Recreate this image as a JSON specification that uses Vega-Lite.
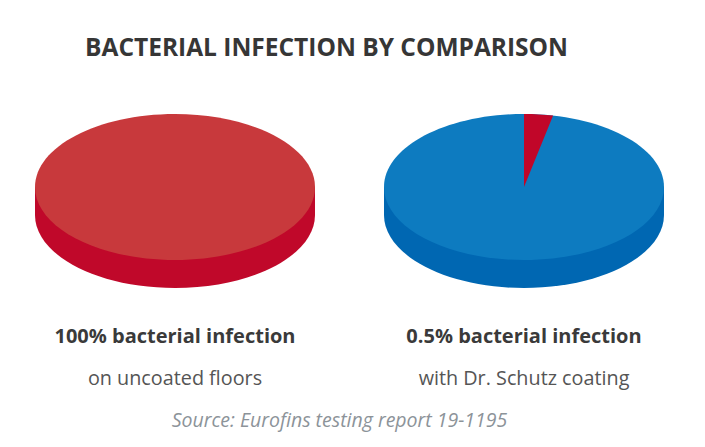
{
  "$schema": "https://vega.github.io/schema/vega-lite/v6.json",
  "width": 705,
  "height": 447,
  "autosize": {"type": "fit", "contains": "padding"},
  "padding": 0,
  "background": "white",
  "config": {"view": {"stroke": null}},
  "datasets": {
    "pies": [
      {"pie": "uncoated", "infected_pct": 100},
      {"pie": "coated", "infected_pct": 0.5}
    ],
    "slices": [
      {"pie": "coated", "part": "infected", "share_drawn_pct": 3.4}
    ],
    "labels": [
      {"pie": "uncoated", "line": "headline", "text": "100% bacterial infection"},
      {"pie": "uncoated", "line": "subline", "text": "on uncoated floors"},
      {"pie": "coated", "line": "headline", "text": "0.5% bacterial infection"},
      {"pie": "coated", "line": "subline", "text": "with Dr. Schutz coating"}
    ],
    "notes": [
      {"line": "title", "text": "BACTERIAL INFECTION BY COMPARISON"},
      {"line": "source", "text": "Source: Eurofins testing report 19-1195"}
    ]
  },
  "layer": [
    {
      "data": {"name": "pies"},
      "mark": {
        "type": "point",
        "shape": "M -1 -0.2607 L -1 -0.0607 A 1 0.5214 0 0 0 1 -0.0607 L 1 -0.2607 Z",
        "filled": true,
        "opacity": 1,
        "size": 78400,
        "strokeWidth": 0
      },
      "encoding": {
        "x": {"field": "pie", "type": "nominal", "scale": {"type": "point", "domain": ["uncoated", "coated"], "range": [175, 524], "padding": 0}, "axis": null},
        "fill": {"field": "pie", "type": "nominal", "scale": {"domain": ["uncoated", "coated"], "range": ["#C0082A", "#0067B2"]}, "legend": null}
      }
    },
    {
      "data": {"name": "pies"},
      "mark": {
        "type": "point",
        "shape": "M -1 -0.2607 A 1 0.5214 0 1 1 1 -0.2607 A 1 0.5214 0 1 1 -1 -0.2607 Z",
        "filled": true,
        "opacity": 1,
        "size": 78400,
        "strokeWidth": 0
      },
      "encoding": {
        "x": {"field": "pie", "type": "nominal", "axis": null},
        "fill": {"field": "pie", "type": "nominal", "scale": {"domain": ["uncoated", "coated"], "range": ["#C8393C", "#0D7BC0"]}, "legend": null}
      }
    },
    {
      "data": {"name": "slices"},
      "mark": {
        "type": "point",
        "shape": "M 0 -0.2607 L 0 -0.7821 A 1 0.5214 0 0 1 0.2079 -0.7707 Z",
        "filled": true,
        "opacity": 1,
        "size": 78400,
        "strokeWidth": 0,
        "color": "#C10629"
      },
      "encoding": {
        "x": {"field": "pie", "type": "nominal", "axis": null}
      }
    },
    {
      "data": {"name": "labels"},
      "transform": [{"filter": "datum.line === 'headline'"}],
      "mark": {"type": "text", "font": "Open Sans", "fontSize": 20, "fontWeight": "bold", "color": "#3a3a3a", "baseline": "alphabetic"},
      "encoding": {
        "x": {"field": "pie", "type": "nominal", "axis": null},
        "y": {"field": "line", "type": "nominal", "scale": {"type": "point", "domain": ["headline", "subline", "source"], "range": [343, 427], "padding": 0}, "axis": null},
        "text": {"field": "text"}
      }
    },
    {
      "data": {"name": "labels"},
      "transform": [{"filter": "datum.line === 'subline'"}],
      "mark": {"type": "text", "font": "Open Sans", "fontSize": 19.8, "color": "#555555", "baseline": "alphabetic"},
      "encoding": {
        "x": {"field": "pie", "type": "nominal", "axis": null},
        "y": {"field": "line", "type": "nominal", "axis": null},
        "text": {"field": "text"}
      }
    },
    {
      "data": {"name": "notes"},
      "transform": [{"filter": "datum.line === 'source'"}],
      "mark": {"type": "text", "font": "Open Sans", "fontSize": 19.5, "fontStyle": "italic", "color": "#8C9399", "baseline": "alphabetic", "dx": -13},
      "encoding": {
        "y": {"field": "line", "type": "nominal", "axis": null},
        "text": {"field": "text"}
      }
    },
    {
      "data": {"name": "notes"},
      "transform": [{"filter": "datum.line === 'title'"}],
      "mark": {"type": "text", "font": "Open Sans", "fontSize": 24.5, "fontWeight": "bold", "color": "#363636", "baseline": "alphabetic", "dx": -26, "dy": -168},
      "encoding": {
        "text": {"field": "text"}
      }
    }
  ],
  "resolve": {"scale": {"fill": "independent"}}
}
